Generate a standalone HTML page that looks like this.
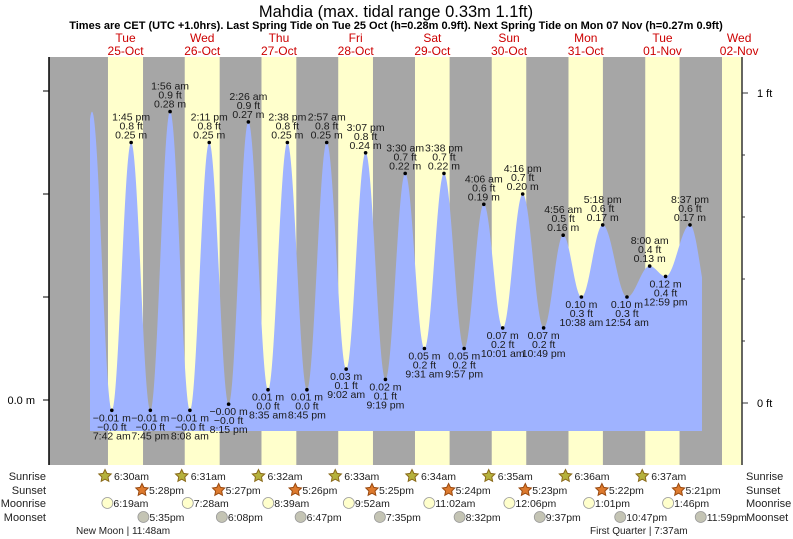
<!DOCTYPE html>
<html><head><meta charset="utf-8"><style>
html,body{margin:0;padding:0;background:#fff;}
svg{display:block;font-family:"Liberation Sans",Arial,sans-serif;}
</style></head><body>
<svg id="chart" width="793" height="539" viewBox="0 0 793 539" xmlns="http://www.w3.org/2000/svg">
<text x="396" y="17" font-size="16.5" text-anchor="middle" fill="#000">Mahdia (max. tidal range 0.33m 1.1ft)</text>
<text x="396" y="29" font-size="11" font-weight="bold" text-anchor="middle" fill="#000">Times are CET (UTC +1.0hrs). Last Spring Tide on Tue 25 Oct (h=0.28m 0.9ft). Next Spring Tide on Mon 07 Nov (h=0.27m 0.9ft)</text>
<g id="bands"></g>
<g id="tide"></g>
<g id="axes"></g>
<g id="labels"></g>
<g id="astro"></g>
<text x="76" y="534" font-size="10" fill="#222">New Moon | 11:48am</text>
<text x="590" y="534" font-size="10" fill="#222">First Quarter | 7:37am</text>
</svg>
<script>
const dayNames = ['Tue','Wed','Thu','Fri','Sat','Sun','Mon','Tue','Wed'];
const dayDates = ['25-Oct','26-Oct','27-Oct','28-Oct','29-Oct','30-Oct','31-Oct','01-Nov','02-Nov'];
const sunrise = ['6:30am','6:31am','6:32am','6:33am','6:34am','6:35am','6:36am','6:37am','6:38am'];
const sunset = ['5:28pm','5:27pm','5:26pm','5:25pm','5:24pm','5:23pm','5:22pm','5:21pm'];
const moonrise = ['6:19am','7:28am','8:39am','9:52am','11:02am','12:06pm','1:01pm','1:46pm'];
const moonset = ['5:35pm','6:08pm','6:47pm','7:35pm','8:32pm','9:37pm','10:47pm','11:59pm'];
// tide extremes: day index, time, height (m), labeled
const tideDays = [-1,0,0,0,0,1,1,1,1,2,2,2,2,3,3,3,3,4,4,4,4,5,5,5,5,6,6,6,7,7,7,7,8];
const tideTimes = ['7:20 pm','1:30 am','7:42 am','1:45 pm','7:45 pm','1:56 am','8:08 am','2:11 pm','8:15 pm','2:26 am','8:35 am','2:38 pm','8:45 pm','2:57 am','9:02 am','3:07 pm','9:19 pm','3:30 am','9:31 am','3:38 pm','9:57 pm','4:06 am','10:01 am','4:16 pm','10:49 pm','4:56 am','10:38 am','5:18 pm','12:54 am','8:00 am','12:59 pm','8:37 pm','3:00 am'];
const tideHeights = [-0.01,0.28,-0.01,0.25,-0.01,0.28,-0.01,0.25,-0.004,0.27,0.01,0.25,0.01,0.25,0.03,0.24,0.02,0.22,0.05,0.22,0.05,0.19,0.07,0.20,0.07,0.16,0.10,0.17,0.10,0.13,0.12,0.17,0.09];
const tideLabeled = [0,0,1,1,1,1,1,1,1,1,1,1,1,1,1,1,1,1,1,1,1,1,1,1,1,1,1,1,1,1,1,1,0];

const NS='http://www.w3.org/2000/svg';
const X0=87.2, DAYW=76.7, PL=49, PR=742, PT=57, PB=465, FB=431, FX0=90, FX1=702;
function parseT(s){const m=s.replace(' ','').match(/(\d+):(\d+)(am|pm)/);let h=+m[1]%12;if(m[3]=='pm')h+=12;return h+ +m[2]/60;}
function xOf(d,s){return X0+(d+parseT(s)/24)*DAYW;}
function yOf(h){return 400-h*1030;}
function mk(tag,attrs,parent,text){const e=document.createElementNS(NS,tag);for(const k in attrs)e.setAttribute(k,attrs[k]);if(text!==undefined)e.textContent=text;parent.appendChild(e);return e;}
const bands=document.getElementById('bands'),tide=document.getElementById('tide'),axes=document.getElementById('axes'),labels=document.getElementById('labels'),astro=document.getElementById('astro');

let r=mk('rect',{x:PL,y:PT,width:PR-PL,height:PB-PT,fill:'#a6a6a6'},bands);


for(let d=0;d<sunrise.length;d++){
  const x1=xOf(d,sunrise[d]);const x2=d<sunset.length?xOf(d,sunset[d]):PR;
  const b=mk('rect',{x:x1,y:PT,width:Math.min(x2,PR)-x1,height:PB-PT,fill:'#ffffcc'},bands);
  
  
  const cx=X0+(d+0.5)*DAYW;
  const t1=mk('text',{x:cx,y:42,'font-size':12,'text-anchor':'middle',fill:'#cc0000'},bands,dayNames[d]);
  
  
  const t2=mk('text',{x:cx,y:55,'font-size':12,'text-anchor':'middle',fill:'#cc0000'},bands,dayDates[d]);
  
  
}
// tide curve
const ex=tideTimes.map((t,i)=>xOf(tideDays[i],t));
function hAt(x){for(let i=0;i<ex.length-1;i++){if(x>=ex[i]&&x<=ex[i+1]){const f=(x-ex[i])/(ex[i+1]-ex[i]);return tideHeights[i]+(tideHeights[i+1]-tideHeights[i])*(1-Math.cos(Math.PI*f))/2;}}return tideHeights[ex.length-1];}
let dstr='M'+FX0+','+FB;
for(let x=FX0;x<=FX1;x+=0.5){dstr+=' L'+x+','+yOf(hAt(x)).toFixed(1);}
dstr+=' L'+FX1+','+FB+' Z';
const p=mk('path',{d:dstr,fill:'#9fb3ff'},tide);


// labels
const fmtM=h=>h.toFixed(2).replace('-','−')+' m';
const fmtF=h=>(h*3.28084).toFixed(1).replace('-','−')+' ft';
for(let i=0;i<ex.length;i++){
  if(!tideLabeled[i])continue;
  const x=ex[i],y=yOf(tideHeights[i]);
  const high=tideHeights[i]>(tideHeights[i-1]||0);
  const c=mk('circle',{cx:x,cy:y,r:1.8,fill:'#000'},labels);
  
  
  const lines=high?[tideTimes[i],fmtF(tideHeights[i]),fmtM(tideHeights[i])]:[fmtM(tideHeights[i]),fmtF(tideHeights[i]),tideTimes[i]];
  const base=high?[y-22,y-13,y-4]:[y+11,y+20,y+29];
  lines.forEach((s,j)=>{const t=mk('text',{x:x,y:base[j],'font-size':10.5,'text-anchor':'middle',fill:'#1a1a1a'},labels,s);
    
    });
}
// axes
let a=mk('line',{x1:PL,y1:PT,x2:PL,y2:PB,stroke:'#000','stroke-width':1.5},axes);

a=mk('line',{x1:PR,y1:PT,x2:PR,y2:PB,stroke:'#333','stroke-width':1.5},axes);

[0,0.1,0.2,0.3].forEach(v=>{const y=yOf(v);mk('line',{x1:43,y1:y,x2:PL,y2:y,stroke:'#000'},axes);});
let t=mk('text',{x:35,y:404,'font-size':11,'text-anchor':'end'},axes,'0.0 m');

for(let k=0;k<=5;k++){const y=403-k*62;mk('line',{x1:PR,y1:y,x2:PR+(k%5==0?6:3),y2:y,stroke:'#333'},axes);}
t=mk('text',{x:757,y:97,'font-size':11},axes,'1 ft');

t=mk('text',{x:757,y:407,'font-size':11},axes,'0 ft');

// astro rows
const rows=[['Sunrise',480],['Sunset',494],['Moonrise',507],['Moonset',521]];
rows.forEach(([n,y])=>{
  let a1=mk('text',{x:46,y:y,'font-size':11,'text-anchor':'end',fill:'#222'},astro,n);
  
  let a2=mk('text',{x:746,y:y,'font-size':11,fill:'#222'},astro,n);
  
});
function star(cx,cy,fill,stroke){let s='';for(let k=0;k<10;k++){const ang=-Math.PI/2+k*Math.PI/5;const rr=k%2?3.2:6.5;s+=(k?'L':'M')+(cx+rr*Math.cos(ang)).toFixed(1)+','+(cy+rr*Math.sin(ang)).toFixed(1);}
  return mk('path',{d:s+'Z',fill:fill,stroke:stroke,'stroke-width':1},astro);}
function rowItems(arr,y,kind){arr.forEach((s,d)=>{if(d>7)return;const x=xOf(d,s);let ic;
  if(kind=='sr')ic=star(x-3,y-4,'#b5b13c','#8a6a1a');
  else if(kind=='ss')ic=star(x-1,y-4,'#dd7a2e','#9a4a10');
  else ic=mk('circle',{cx:x,cy:y-4,r:5.5,fill:kind=='mr'?'#ffffcc':'#c4c4b4',stroke:'#999','stroke-width':0.8},astro);
  
  
  const tt=mk('text',{x:x+6,y:y,'font-size':10.5,fill:'#222'},astro,s);
  
  });}
rowItems(sunrise,480,'sr');rowItems(sunset,494,'ss');rowItems(moonrise,507,'mr');rowItems(moonset,521,'ms');
</script>
</body></html>
